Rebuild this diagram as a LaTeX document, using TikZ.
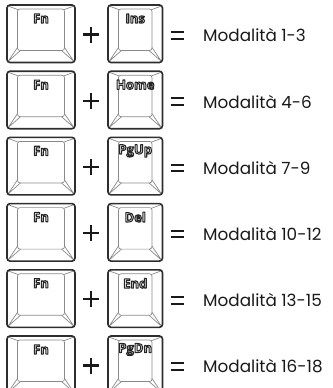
\documentclass[tikz,border=0pt]{standalone}
\usepackage{fontspec}
\setmainfont{Poppins}
\newfontfamily\keyfont{Open Sans}
\definecolor{keyedge}{HTML}{2E2E2E}
\definecolor{facegray}{HTML}{8A8A8A}
\definecolor{lblfill}{HTML}{E6E6E6}
\tikzset{
  keyouter/.style={draw=keyedge, line width=1.6pt, rounded corners=3pt},
  facel/.style={draw=facegray, line width=0.7pt},
  lbl/.style={font=\keyfont\bfseries\fontsize{13}{13}\selectfont, inner sep=0pt, text=lblfill},
  modetext/.style={font=\fontsize{16.8}{16.8}\selectfont, anchor=west, inner sep=0pt, text=black!90},
  signline/.style={line width=2.1pt, draw=black!90}
}
\newcommand\outlinetext[1]{\special{pdf:code q 0.15 0.15 0.15 RG 1.05 w 1 j 2 Tr}#1\special{pdf:code Q}}
\newcommand\keyface[3]{%
  \pgfmathsetmacro\kR{#1+#2}\pgfmathsetmacro\kB{#3}%
  \pgfmathsetmacro\iL{#1+10.5}\pgfmathsetmacro\iR{#1+#2-10.5}%
  \pgfmathsetmacro\iT{4}\pgfmathsetmacro\iB{#3-12}%
  \draw[facel, rounded corners=2.5pt] (\iL,\iT) rectangle (\iR,\iB);
  \draw[facel] (#1+1,1) -- (\iL+0.8,\iT+0.8);
  \draw[facel] (\kR-1,1) -- (\iR-0.8,\iT+0.8);
  \draw[facel] (#1+1,\kB-1) -- (\iL,\iB-3) (#1+1,\kB-1) -- (\iL+3,\iB);
  \draw[facel] (\kR-1,\kB-1) -- (\iR,\iB-3) (\kR-1,\kB-1) -- (\iR-3,\iB);
  \draw[keyouter] (#1,0) rectangle (\kR,\kB);
}
\begin{document}
\begin{tikzpicture}[x=1pt,y=-1pt]
\useasboundingbox (0,0) rectangle (332,388);
\foreach \lab/\mode [count=\i from 0] in {Ins/1-3,Home/4-6,PgUp/7-9,Del/10-12,End/13-15,PgDn/16-18}{
  \pgfmathsetmacro\T{5+66.2*\i}
  \begin{scope}[shift={(0,\T)}]
    \keyface{7}{68}{57.5}
    \keyface{108}{54.5}{57.5}
    \node[lbl] (fn\i) at (41,13.5) {\outlinetext{Fn}};
    \node[lbl] (key\i) at (135.25,13.5) {\outlinetext{\lab}};
    \coordinate (plus\i) at (91,29.5);
    \draw[signline] ([xshift=-8pt]plus\i) -- ([xshift=8pt]plus\i)
                    ([yshift=-8pt]plus\i) -- ([yshift=8pt]plus\i);
    \coordinate (eq\i) at (177,30.5);
    \draw[signline] ([xshift=-6.5pt,yshift=3.3pt]eq\i) -- ([xshift=6.5pt,yshift=3.3pt]eq\i)
                    ([xshift=-6.5pt,yshift=-3.3pt]eq\i) -- ([xshift=6.5pt,yshift=-3.3pt]eq\i);
    \node[modetext] (mode\i) at (203,30.5) {Modalità \mode};
  \end{scope}
}
\end{tikzpicture}
\end{document}
